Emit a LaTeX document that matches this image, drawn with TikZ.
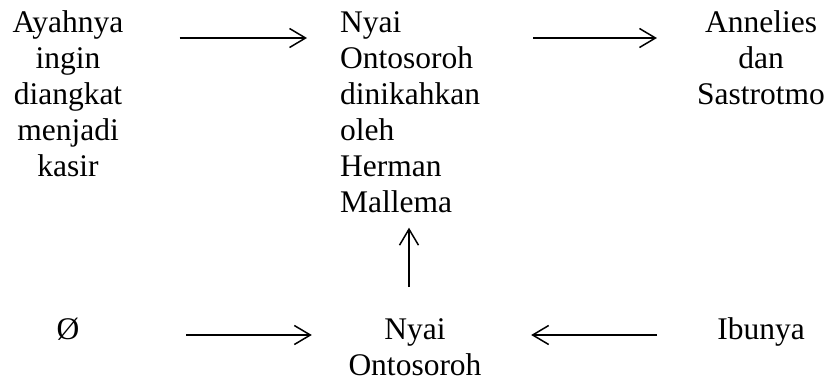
\documentclass[tikz,border=0pt]{standalone}
\usepackage{fontspec}
\setmainfont{Liberation Serif}
\usetikzlibrary{arrows.meta}
\usetikzlibrary{calc}
\usetikzlibrary{positioning}

\begin{document}
\begin{tikzpicture}[x=1pt, y=-1pt,
			internal/.style={inner sep=0pt, anchor=north, font=\fontsize{31.5}{36}\selectfont},
			arrow/.style={-{Straight Barb[length=16pt, width=19pt]}, line width=1.5pt}]
			\useasboundingbox (0, 0) rectangle (827, 381);
			
			\node[internal, align=center](node1) at (68, 6.8) {\strut Ayahnya \\ ingin \\ diangkat \\ menjadi \\ kasir};
			
			\node[internal, align=left, anchor=north west](node2) at (340, 6.8) {\strut Nyai \\ Ontosoroh \\ dinikahkan \\ oleh \\ Herman \\ Mallema};
			\draw[arrow] ($(node1.north east)+(56, 31.2)$) -- ($(node2.north west)+(-33, 31.2)$);
			
			\node[internal, align=center](node3) at (761, 6.8) {\strut Annelies \\ dan \\ Sastrotmo};
			\draw[arrow] ($(node2.north east)+(53, 31.2)$) -- ($(node3.north west)+(-40, 31.2)$);
			
			\node[internal, align=center](node4) at (415, 313.8) {\strut Nyai \\ Ontosoroh};
			\draw[arrow] ($(node4.north)+(-6, -26.8)$) -- ($(node4.north |- node2.south)+(-6, 15)$);
			
			\node[internal, align=center](node5) at (68, 313.8) {\strut Ø};
			\draw[arrow] ($(node5.north east)+(106.5, 21.2)$) -- ($(node4.north west)+(-36.5, 21.2)$);
			
			\node[internal, align=center](node6) at (761, 313.8) {\strut Ibunya};
			\draw[arrow] ($(node6.north west)+(-60, 21.2)$) -- ($(node4.north east)+(49.5, 21.2)$);
			\end{tikzpicture}
\end{document}
